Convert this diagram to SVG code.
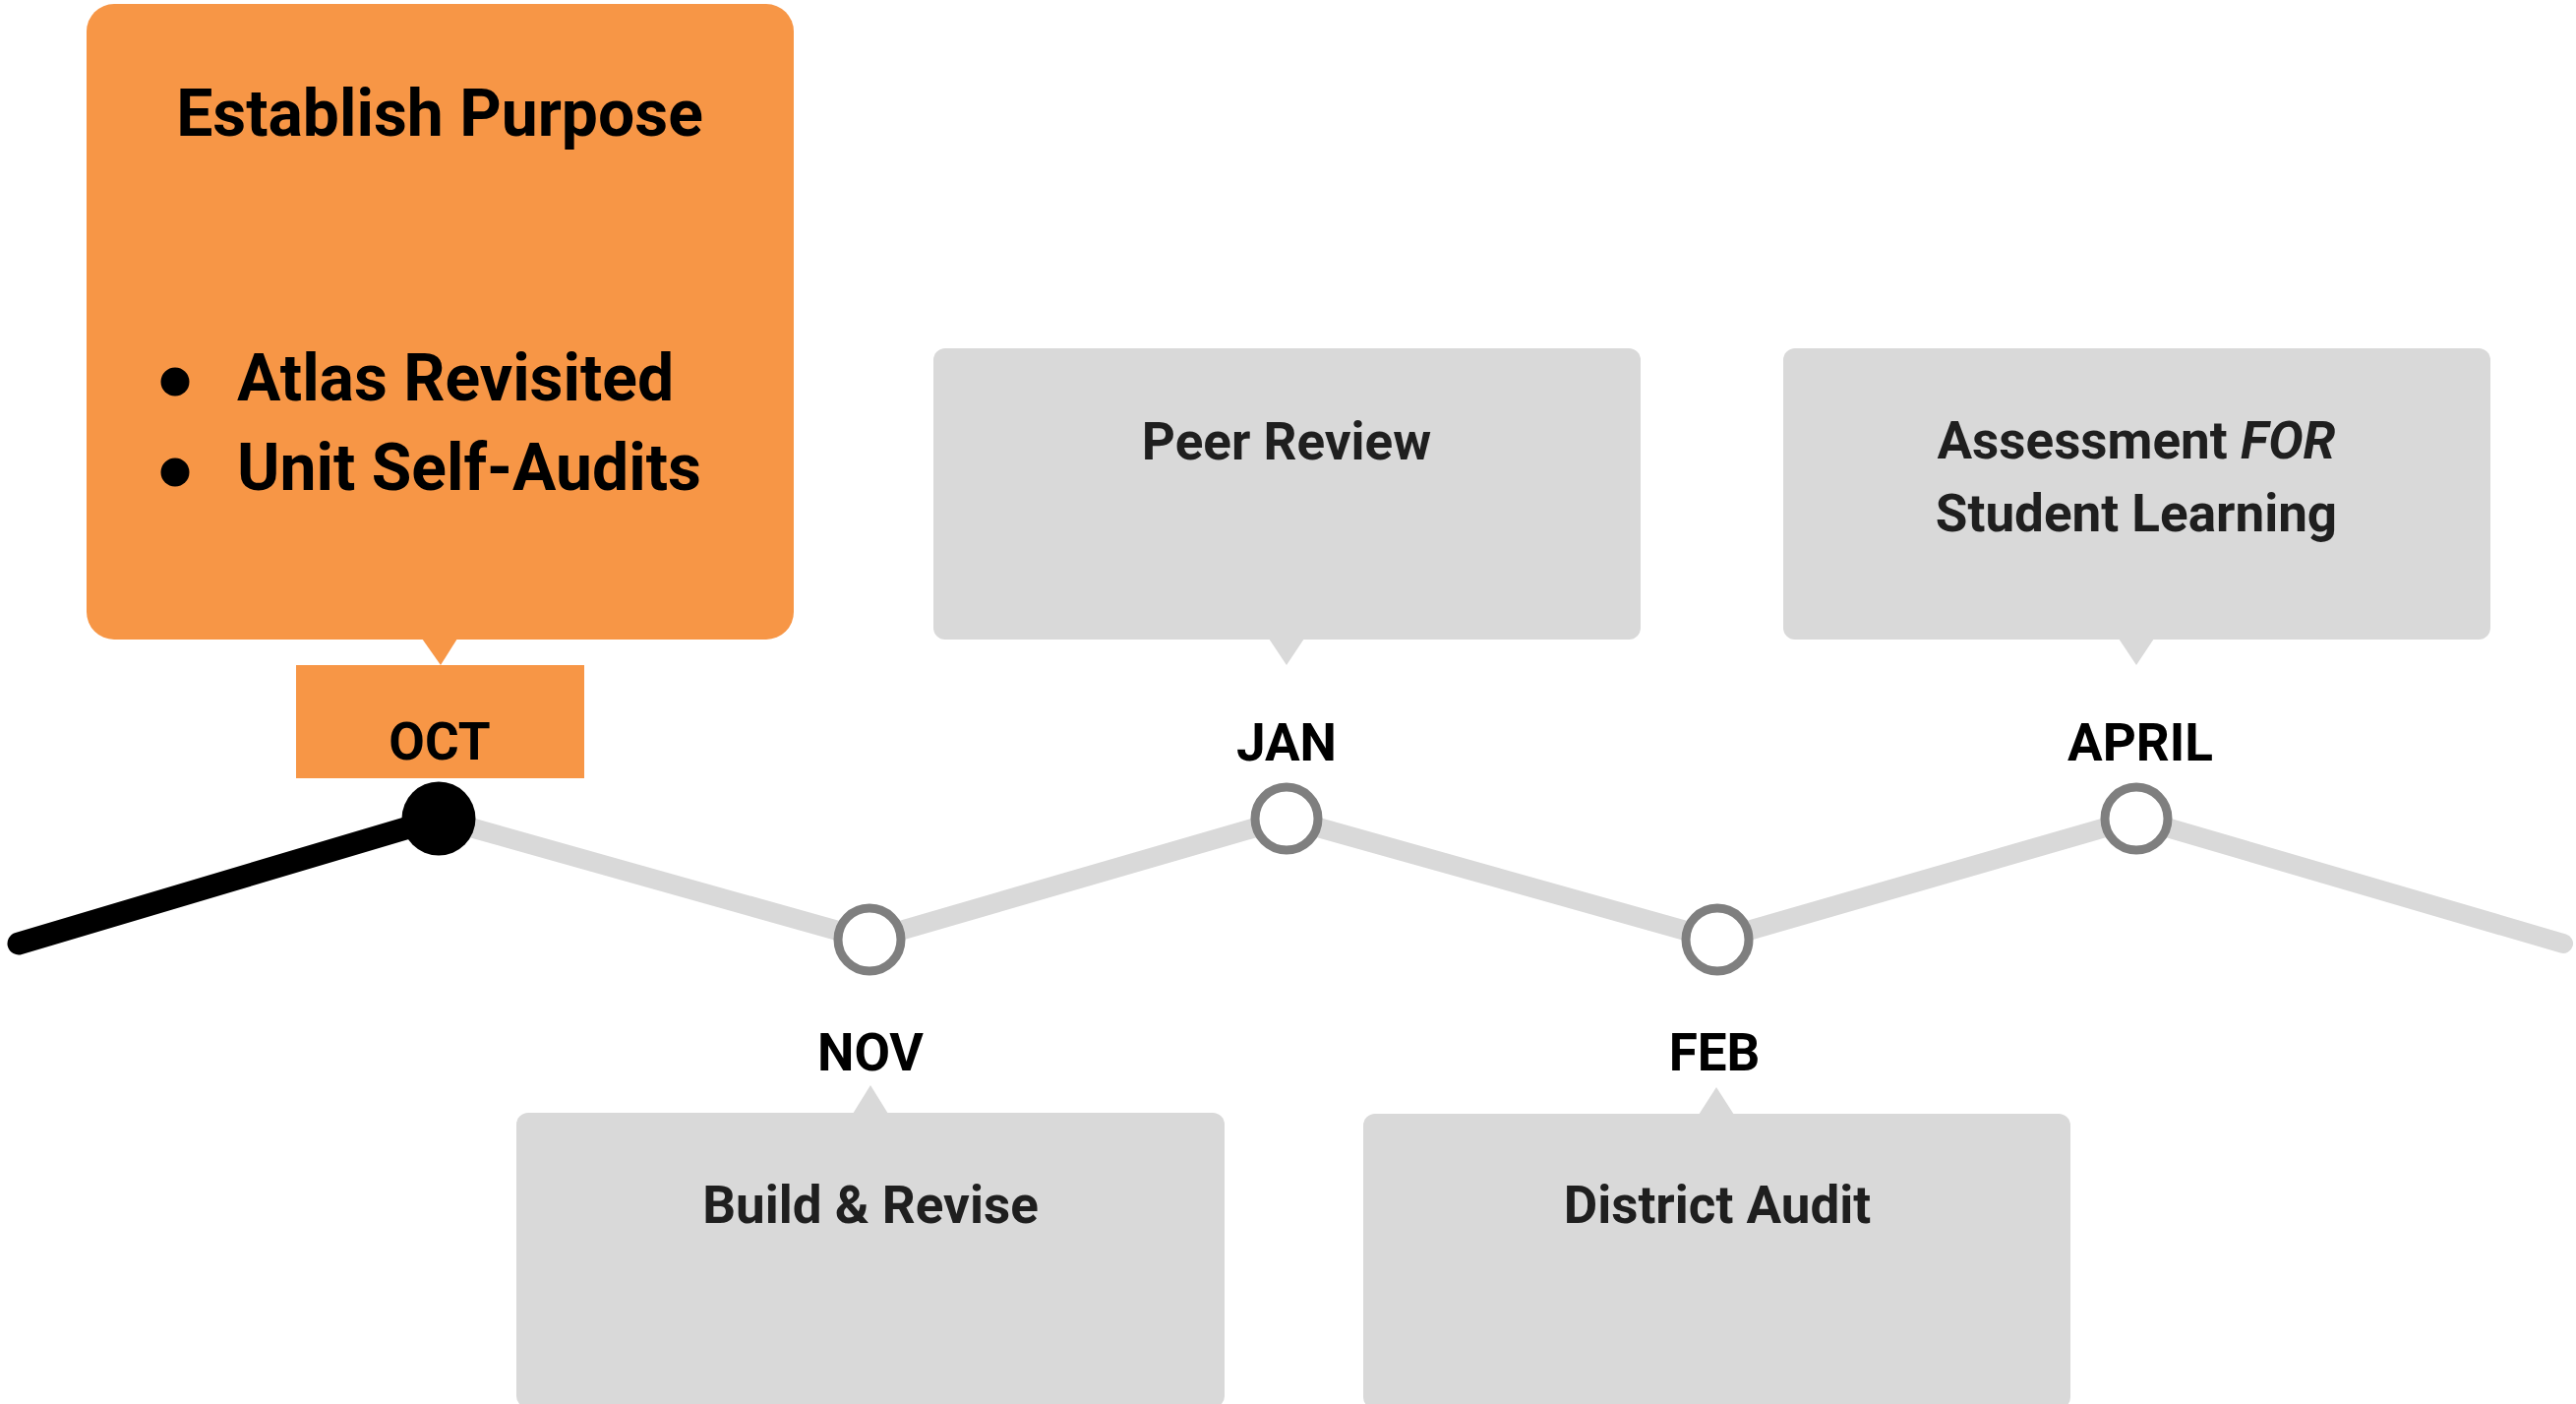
<svg xmlns="http://www.w3.org/2000/svg" width="2619" height="1427" viewBox="0 0 2619 1427">
<style>
.t{font-family:Roboto,"Liberation Sans",sans-serif;font-weight:700;text-anchor:middle}
.lbl{font-size:53px;fill:#000}
.gt{font-size:53px;fill:#1f1f1f}
.gbox{fill:#d9d9d9}
.obox{fill:#f79646}
.node{fill:#fff;stroke:#7f7f7f;stroke-width:9}
</style>
<rect width="2619" height="1427" fill="#fff"/>
<g id="connectors">
<polyline points="446,832 884,955 1308,832 1746,955 2172,832 2606,959" fill="none" stroke="#d9d9d9" stroke-width="20" stroke-linecap="round" stroke-linejoin="round"/>
<line x1="19" y1="959" x2="446" y2="832" stroke="#000" stroke-width="23" stroke-linecap="round"/>
</g>
<g id="oct">
<rect class="obox" x="88" y="4" width="719" height="646" rx="28"/>
<polygon class="obox" points="429,649 465,649 448,676"/>
<rect class="obox" x="301" y="676" width="293" height="115"/>
<text class="t" x="447" y="138" font-size="66" fill="#000">Establish Purpose</text>
<circle cx="178" cy="388" r="14.5" fill="#000"/>
<circle cx="178" cy="480" r="14.5" fill="#000"/>
<text class="t" x="241" y="407" font-size="66" fill="#000" style="text-anchor:start">Atlas Revisited</text>
<text class="t" x="241" y="498" font-size="66" fill="#000" style="text-anchor:start">Unit Self-Audits</text>
<text class="t lbl" x="447" y="772">OCT</text>
<circle cx="446" cy="832" r="37.5" fill="#000"/>
</g>
<g id="nov">
<rect class="gbox" x="525" y="1131" width="720" height="300" rx="12"/>
<polygon class="gbox" points="867,1132 903,1132 885,1103"/>
<text class="t gt" x="885" y="1243">Build &amp; Revise</text>
<text class="t lbl" x="885" y="1088">NOV</text>
<circle class="node" cx="884" cy="955" r="32"/>
</g>
<g id="jan">
<rect class="gbox" x="949" y="354" width="719" height="296" rx="12"/>
<polygon class="gbox" points="1290,649 1326,649 1308,676"/>
<text class="t gt" x="1308" y="467">Peer Review</text>
<text class="t lbl" x="1308" y="773">JAN</text>
<circle class="node" cx="1308" cy="832" r="32"/>
</g>
<g id="feb">
<rect class="gbox" x="1386" y="1132" width="719" height="300" rx="12"/>
<polygon class="gbox" points="1727,1133 1763,1133 1745,1105"/>
<text class="t gt" x="1746" y="1243">District Audit</text>
<text class="t lbl" x="1743" y="1088">FEB</text>
<circle class="node" cx="1746" cy="955" r="32"/>
</g>
<g id="april">
<rect class="gbox" x="1813" y="354" width="719" height="296" rx="12"/>
<polygon class="gbox" points="2154,649 2190,649 2172,676"/>
<text class="t gt" x="2172" y="466">Assessment <tspan font-style="italic">FOR</tspan></text>
<text class="t gt" x="2172" y="540">Student Learning</text>
<text class="t lbl" x="2176" y="773">APRIL</text>
<circle class="node" cx="2172" cy="832" r="32"/>
</g>
</svg>
